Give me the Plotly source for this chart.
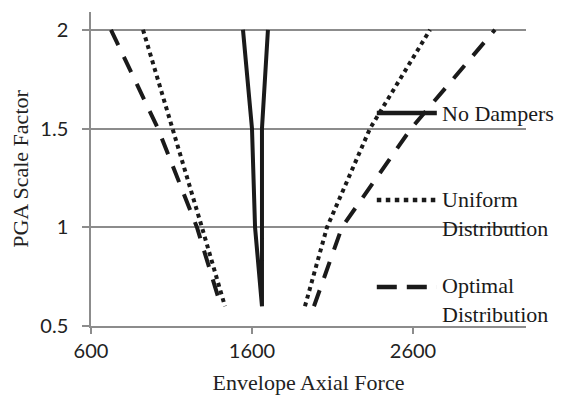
import plotly.graph_objects as go

# PGA scale factors (y) and envelope axial forces (x)
pga = [0.6, 1.0, 1.5, 2.0]
no_dampers_min = [1662, 1619, 1600, 1544]
no_dampers_max = [1662, 1662, 1662, 1699]
uniform_min = [1432, 1289, 1109, 923]
uniform_max = [1929, 2066, 2333, 2706]
optimal_min = [1407, 1258, 1016, 724]
optimal_max = [1985, 2159, 2588, 3109]

series_names = ["No Dampers", "Uniform<br>Distribution", "Optimal<br>Distribution"]
x_ticks = [600, 1600, 2600]
y_ticks = [0.5, 1, 1.5, 2]

styles = [
    dict(color="#1a1a1a", width=4, dash="solid"),
    dict(color="#1a1a1a", width=4, dash="dot"),
    dict(color="#1a1a1a", width=4, dash="17px,13px"),
]
legend_dash = ["solid", "dot", "20px,10px"]
data = [
    (no_dampers_min, no_dampers_max),
    (uniform_min, uniform_max),
    (optimal_min, optimal_max),
]

fig = go.Figure()
for (lo, hi), st, name in zip(data, styles, series_names):
    # left branch from top down to 0.6, then the right branch from 0.6 up
    xs = list(reversed(lo))
    ys = list(reversed(pga))
    if name == "No Dampers":
        xs += hi
        ys += pga
    else:
        xs += [None] + hi
        ys += [None] + pga
    fig.add_trace(go.Scatter(x=xs, y=ys, mode="lines", line=st,
                             name=name, showlegend=False, hoverinfo="skip"))

serif = "Liberation Serif, Times New Roman, serif"
sans = "Lato, Carlito, Calibri, sans-serif"

# Manual legend (samples + labels)
legend_y = [0.678, 0.401, 0.124]
label_y = [0.678, 0.357, 0.083]
for st, dsh, name, ly, ty in zip(styles, legend_dash, series_names, legend_y, label_y):
    fig.add_shape(type="line", xref="paper", yref="paper",
                  x0=0.657, x1=0.795, y0=ly, y1=ly,
                  line=dict(color=st["color"], width=4.5, dash=dsh))
    fig.add_annotation(xref="paper", yref="paper", x=0.803, y=ty,
                       xanchor="left", yanchor="middle", text=name, showarrow=False,
                       align="left", font=dict(family=serif, size=22, color="#1a1a1a"))

# page body has an 8px margin; keep the figure inside the viewport (no scrollbars)
fig.update_layout(
    width=548, height=387,
    margin=dict(l=83, r=30, t=4, b=69, autoexpand=False),
    plot_bgcolor="white", paper_bgcolor="white",
    showlegend=False,
)
fig.update_xaxes(
    range=[600, 3302], tickvals=x_ticks, ticktext=[str(v) for v in x_ticks],
    showgrid=False, showline=True, linecolor="#8c8c8c", linewidth=1.5,
    ticks="outside", ticklen=6, tickcolor="#8c8c8c", tickwidth=1.5,
    tickfont=dict(family=sans, size=20, color="#222"),
    title=dict(text="Envelope Axial Force", font=dict(family=serif, size=22, color="#222"), standoff=14),
    zeroline=False, automargin=False,
)
fig.update_yaxes(
    range=[0.5, 2.09], tickvals=y_ticks, ticktext=["0.5", "1", "1.5", "2"],
    showgrid=True, gridcolor="#8c8c8c", gridwidth=1.5,
    showline=True, linecolor="#8c8c8c", linewidth=1.5,
    ticks="outside", ticklen=7, tickcolor="#8c8c8c", tickwidth=1.5,
    tickfont=dict(family=sans, size=20, color="#222"),
    ticklabelstandoff=10,
    title=dict(text="PGA Scale Factor", font=dict(family=serif, size=22, color="#222"), standoff=12),
    zeroline=False, automargin=False,
)

fig.write_html("out.html")
